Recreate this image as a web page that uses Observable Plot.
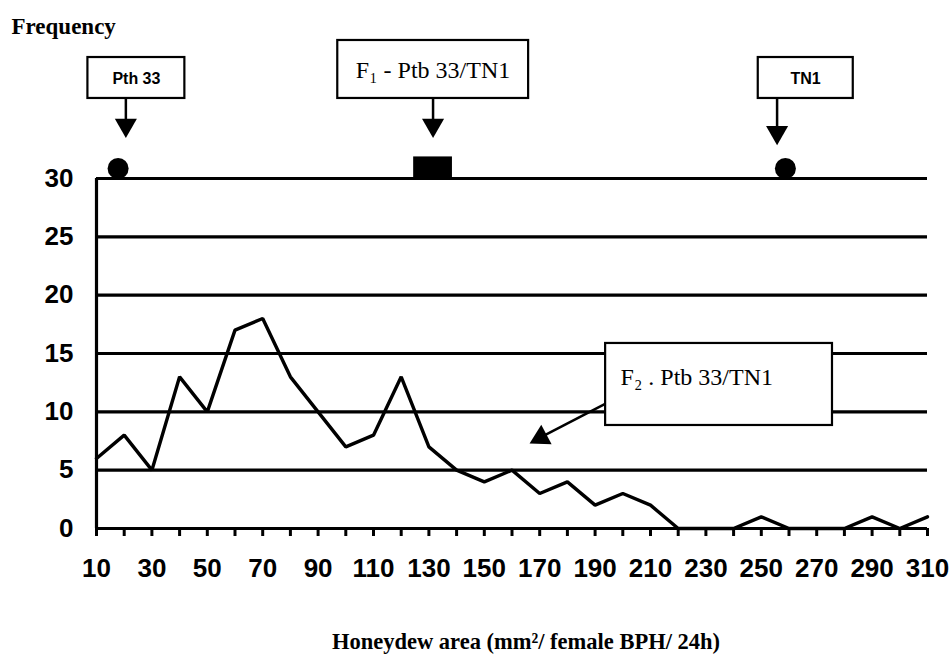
<!DOCTYPE html>
<html>
<head>
<meta charset="utf-8">
<script src="https://cdn.jsdelivr.net/npm/d3@7"></script>
<script src="https://cdn.jsdelivr.net/npm/@observablehq/plot@0.6"></script>
<style>
  body { margin: 0; background: #fff; }
  svg { display: block; }
</style>
</head>
<body>
<div id="chart"></div>
<script>
// ---- data ----
const honeydew = [10, 20, 30, 40, 50, 60, 70, 80, 90, 100, 110, 120, 130, 140, 150, 160,
  170, 180, 190, 200, 210, 220, 230, 240, 250, 260, 270, 280, 290, 300, 310];
const frequency = [6, 8, 5, 13, 10, 17, 18, 13, 10, 7, 8, 13, 7, 5, 4, 5,
  3, 4, 2, 3, 2, 0, 0, 0, 1, 0, 0, 0, 1, 0, 1];
const xTickLabels = [10, 30, 50, 70, 90, 110, 130, 150, 170, 190, 210, 230, 250, 270, 290, 310];
const yTicks = [0, 5, 10, 15, 20, 25, 30];
const parentNames = ["Pth 33", "TN1"];
const parentMeans = [17.8, 258.7];
const f1Name = "F\u2081 - Ptb 33/TN1";
const f1Mean = 131.5;
const f2Name = "F\u2082 . Ptb 33/TN1";

// ---- annotation layout (data units) ----
const labelBoxes = [
  {label: parentNames[0], x1: 6.9, x2: 41.9, y1: 36.86, y2: 40.37, cx: 24.4, cy: 38.55, size: 16, font: "'Liberation Sans', Arial, sans-serif", weight: "bold"},
  {label: f1Name, x1: 97.1, x2: 166.0, y1: 36.86, y2: 41.83, cx: 131.5, cy: 39.3, size: 24, font: "'Liberation Serif', serif", weight: "normal"},
  {label: parentNames[1], x1: 248.9, x2: 283.2, y1: 36.86, y2: 40.37, cx: 266, cy: 38.55, size: 16, font: "'Liberation Sans', Arial, sans-serif", weight: "bold"}
];
const shafts = [
  {x: 20.6, y1: 36.86, y2: 34.6},
  {x: 131.5, y1: 36.86, y2: 34.6},
  {x: 255.7, y1: 36.86, y2: 34.0}
];
const heads = [
  {x: 20.6, y: 34.57, rot: 180},
  {x: 131.5, y: 34.57, rot: 180},
  {x: 255.7, y: 33.95, rot: 180},
  {x: 170.4, y: 7.8, rot: 242}
];
const f2Box = {x1: 193.8, x2: 275.7, y1: 8.83, y2: 15.86};

const sans = "'Liberation Sans', Arial, sans-serif";
const serif = "'Liberation Serif', 'Times New Roman', serif";

const data = honeydew.map((h, i) => ({h, f: frequency[i]}));

const chart = Plot.plot({
  width: 950,
  height: 655,
  marginLeft: 96,
  marginRight: 23,
  marginTop: 178,
  marginBottom: 127,
  style: {background: "#fff", color: "#000", overflow: "visible"},
  x: {domain: [10, 310]},
  y: {domain: [0, 30]},
  marks: [
    // gridlines
    Plot.ruleY(yTicks, {stroke: "#000", strokeWidth: 3.2}),
    // y axis line
    Plot.ruleX([10], {y1: 0, y2: 30, stroke: "#000", strokeWidth: 3.2}),
    // x ticks (every 10)
    Plot.axisX({ticks: honeydew, tickSize: 8, tickFormat: () => "", strokeWidth: 3, label: null}),
    // x tick labels (every 20)
    Plot.axisX({ticks: xTickLabels, tickSize: 0, tickPadding: 30, label: null,
      fontSize: 26, fontWeight: "bold", fontFamily: sans}),
    // y tick labels
    Plot.axisY({ticks: yTicks, tickSize: 0, tickPadding: 23, label: null,
      fontSize: 26, fontWeight: "bold", fontFamily: sans}),
    // data line
    Plot.line(data, {x: "h", y: "f", stroke: "#000", strokeWidth: 3.4, strokeLinejoin: "miter"}),
    // parent markers
    Plot.dot(parentMeans, {x: d => d, y: 30, dy: -10, r: 10.5, fill: "#000", stroke: "none"}),
    // F1 marker
    Plot.rect([f1Mean], {x1: d => d - 7, x2: d => d + 7, y1: 30, y2: 31.85, fill: "#000", inset: 0}),
    // label boxes
    Plot.rect(labelBoxes, {x1: "x1", x2: "x2", y1: "y1", y2: "y2", fill: "#fff", stroke: "#000", strokeWidth: 2.2, inset: 0}),
    ...labelBoxes.map(b => Plot.text([b], {x: "cx", y: "cy", text: "label", fontSize: b.size,
      fontFamily: b.font, fontWeight: b.weight, fill: "#000"})),
    // arrows
    Plot.link(shafts, {x1: "x", x2: "x", y1: "y1", y2: "y2", stroke: "#000", strokeWidth: 2.5}),
    Plot.link([0], {x1: 193.8, y1: 10.7, x2: 171, y2: 7.9, stroke: "#000", strokeWidth: 2.5}),
    Plot.dot(heads, {x: "x", y: "y", symbol: "triangle", r: 8.2, rotate: "rot", fill: "#000", stroke: "none"}),
    // F2 box
    Plot.rect([f2Box], {x1: "x1", x2: "x2", y1: "y1", y2: "y2", fill: "#fff", stroke: "#000", strokeWidth: 2.2, inset: 0}),
    Plot.text([f2Name], {x: 199.2, y: 13.0, text: d => d, textAnchor: "start", fontSize: 24, fontFamily: serif, fill: "#000"}),
    // titles
    Plot.text(["Frequency"], {frameAnchor: "top-left", dx: -85, dy: -161, text: d => d,
      fontSize: 23, fontWeight: "bold", fontFamily: serif, fill: "#000"}),
    Plot.text(["Honeydew area (mm\u00b2/ female BPH/ 24h)"], {frameAnchor: "bottom", dx: 14, dy: 120, text: d => d,
      fontSize: 22.5, fontWeight: "bold", fontFamily: serif, fill: "#000"})
  ]
});
document.getElementById("chart").appendChild(chart);
</script>
</body>
</html>
